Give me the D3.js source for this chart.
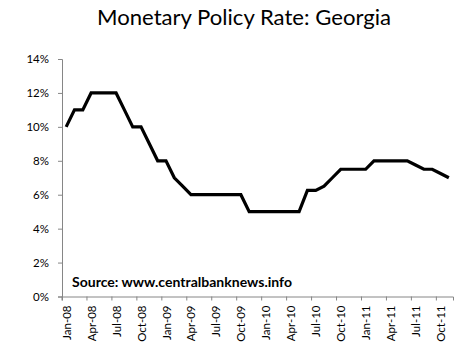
<!DOCTYPE html>
<html><head><meta charset="utf-8">
<script src="https://cdn.jsdelivr.net/npm/d3@7"></script>
<style>
html,body{margin:0;padding:0;background:#fff;}
svg{display:block;}
text{font-family:Lato,"Open Sans",sans-serif;}
</style></head>
<body>
<svg id="c" width="470" height="344"></svg>
<script>
const title = "Monetary Policy Rate: Georgia";
const source = "Source: www.centralbanknews.info";
const months = ["Jan","Feb","Mar","Apr","May","Jun","Jul","Aug","Sep","Oct","Nov","Dec"];
const years = ["08","09","10","11"];
const categories = [];
years.forEach(y => months.forEach(m => categories.push(m + "-" + y)));
categories.splice(47); // Jan-08 .. Nov-11
const rates = [
  10, 11, 11, 12, 12, 12, 12, 11, 10, 10, 9, 8,
  8, 7, 6.5, 6, 6, 6, 6, 6, 6, 6, 5, 5,
  5, 5, 5, 5, 5, 6.25, 6.25, 6.5, 7, 7.5, 7.5, 7.5,
  7.5, 8, 8, 8, 8, 8, 7.75, 7.5, 7.5, 7.25, 7
];
const yTicks = [0, 2, 4, 6, 8, 10, 12, 14];
const xTickLabels = categories.filter((d, i) => i % 3 === 0);

const svg = d3.select("#c");
const L = 62, R = 453, T = 59, B = 296.5;

const x = d3.scaleBand().domain(categories).range([L, R]).padding(0);
const y = d3.scaleLinear().domain([0, 14]).range([B, T]);
const bw = x.bandwidth();

// title
svg.append("text").attr("x", 244).attr("y", 25).attr("text-anchor", "middle")
  .attr("font-size", 21).attr("fill", "#000")
  .attr("textLength", 294).attr("lengthAdjust", "spacingAndGlyphs")
  .text(title);

// y axis
const yAxis = svg.append("g").attr("transform", `translate(${L},0)`)
  .call(d3.axisLeft(y).tickValues(yTicks).tickFormat(d => d + "%").tickSize(4).tickPadding(9));
yAxis.selectAll("path,line").attr("stroke", "#868686");
yAxis.selectAll("text").attr("font-size", 11.5).attr("fill", "#000").attr("font-family", "Lato, 'Open Sans', sans-serif");

// x axis
const xAxis = svg.append("g").attr("transform", `translate(0,${B})`)
  .call(d3.axisBottom(x).tickValues(xTickLabels).tickSizeOuter(0).tickSize(4));
xAxis.select("path").attr("stroke", "#868686");
xAxis.selectAll(".tick line").attr("stroke", "#868686").attr("x1", -bw / 2).attr("x2", -bw / 2);
xAxis.selectAll(".tick text")
  .attr("font-size", 11.5).attr("fill", "#000").attr("font-family", "Lato, 'Open Sans', sans-serif")
  .attr("transform", "rotate(-90)")
  .attr("text-anchor", "end")
  .attr("x", -9).attr("y", 0.5).attr("dy", "0.35em");

// line
const line = d3.line().x((d, i) => x(categories[i]) + bw / 2).y(d => y(d));
svg.append("path").datum(rates).attr("d", line)
  .attr("fill", "none").attr("stroke", "#000").attr("stroke-width", 3.2)
  .attr("stroke-linejoin", "miter");

// source
svg.append("text").attr("x", 72).attr("y", 287).attr("font-size", 13.5)
  .attr("font-weight", "bold").attr("fill", "#000")
  .attr("textLength", 220).attr("lengthAdjust", "spacingAndGlyphs")
  .text(source);
</script>
</body></html>
